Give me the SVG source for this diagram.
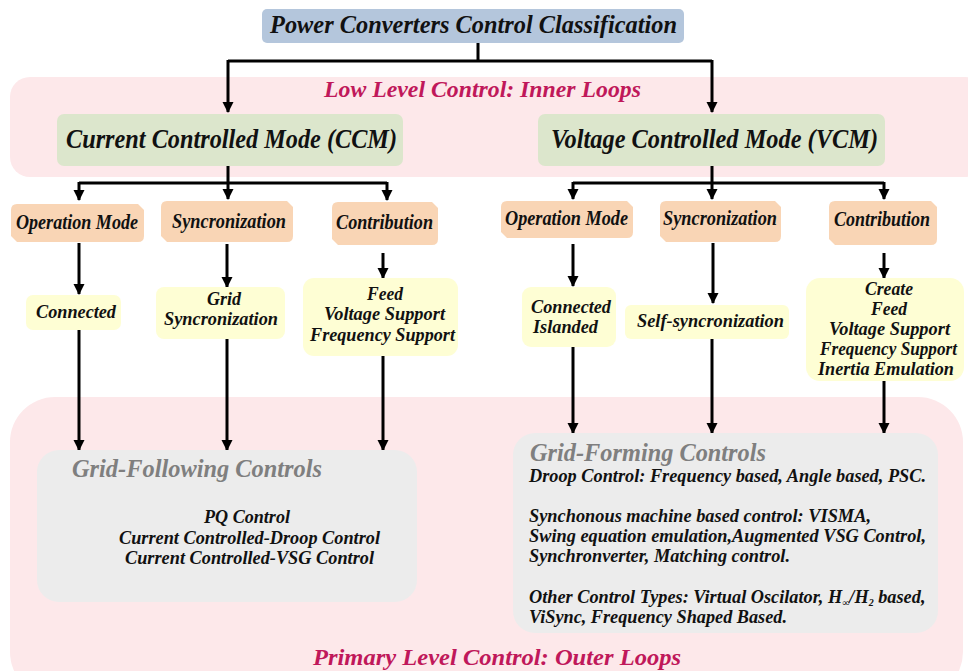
<svg xmlns="http://www.w3.org/2000/svg" width="968" height="671" viewBox="0 0 968 671">
  <style>
    text { font-family: "Liberation Serif", "Times New Roman", serif; font-weight: bold; font-style: italic; fill: #111; }
    .band { fill: #fde8ea; }
    .band-label { font-size: 24px; fill: #c0185a; }
    .title { fill: #b4c6dc; }
    .mode { fill: #dce6cc; }
    .cat { fill: #f9d5b5; }
    .leaf { fill: #fefed4; }
    .group { fill: #ececec; }
    .t18 { font-size: 20px; }
    .t17 { font-size: 19.5px; }
    .gtitle { font-size: 25px; fill: #7f7f7f; }
    .wire { stroke: #000; stroke-width: 3; fill: none; }
    .arrow { stroke: #000; stroke-width: 3; fill: none; marker-end: url(#head); }
  </style>
  <defs>
    <marker id="head" markerUnits="userSpaceOnUse" markerWidth="12" markerHeight="12" refX="10" refY="6" orient="auto">
      <path d="M0,0.5 L11,6 L0,11.5 Z" fill="#000"/>
    </marker>
  </defs>

  <!-- background bands -->
  <g id="inner-loops">
    <rect class="band" x="10" y="77" width="975" height="100" rx="20"/>
    <text class="band-label" x="324" y="97" textLength="317" lengthAdjust="spacingAndGlyphs">Low Level Control: Inner Loops</text>
  </g>
  <g id="outer-loops">
    <rect class="band" x="10" y="397" width="953" height="300" rx="45"/>
    <text class="band-label" x="313" y="665" textLength="368" lengthAdjust="spacingAndGlyphs">Primary Level Control: Outer Loops</text>
  </g>

  <!-- connectors -->
  <g id="connectors">
    <path class="wire" d="M478,43 V61 M228,61 H712"/>
    <path class="arrow" d="M228,60 V112"/>
    <path class="arrow" d="M712,60 V112"/>

    <path class="wire" d="M228,166 V183 M79,183 H387"/>
    <path class="arrow" d="M79,182 V200"/>
    <path class="arrow" d="M228,182 V199"/>
    <path class="arrow" d="M387,182 V200"/>

    <path class="wire" d="M712,166 V183 M573,183 H884"/>
    <path class="arrow" d="M573,182 V199"/>
    <path class="arrow" d="M712,182 V199"/>
    <path class="arrow" d="M884,182 V199"/>

    <path class="arrow" d="M79,243 V294"/>
    <path class="arrow" d="M227,244 V287"/>
    <path class="arrow" d="M383,253 V278"/>
    <path class="arrow" d="M573,244 V286"/>
    <path class="arrow" d="M713,243 V303"/>
    <path class="arrow" d="M884,253 V278"/>

    <path class="arrow" d="M79,330 V450"/>
    <path class="arrow" d="M227,339 V450"/>
    <path class="arrow" d="M383,356 V450"/>
    <path class="arrow" d="M573,347 V433"/>
    <path class="arrow" d="M712,339 V433"/>
    <path class="arrow" d="M884,381 V433"/>
  </g>

  <!-- root -->
  <g id="root">
    <rect class="title" x="262" y="9" width="422" height="34" rx="5"/>
    <text x="270" y="33" font-size="25" textLength="407" lengthAdjust="spacingAndGlyphs">Power Converters Control Classification</text>
  </g>

  <!-- control modes -->
  <g id="ccm">
    <rect class="mode" x="57" y="114" width="346" height="52" rx="7"/>
    <text x="66" y="148" font-size="27" textLength="331" lengthAdjust="spacingAndGlyphs">Current Controlled Mode (CCM)</text>
  </g>
  <g id="vcm">
    <rect class="mode" x="538" y="114" width="347" height="52" rx="7"/>
    <text x="551" y="148" font-size="27" textLength="327" lengthAdjust="spacingAndGlyphs">Voltage Controlled Mode (VCM)</text>
  </g>

  <!-- categories under CCM -->
  <g id="ccm-operation">
    <path class="cat" d="M17,204 H138 L144,210 V236 Q144,242 138,242 H17 L11,236 V210 Q11,204 17,204 Z"/>
    <text class="t18" x="16" y="229" textLength="122" lengthAdjust="spacingAndGlyphs">Operation Mode</text>
  </g>
  <g id="ccm-sync">
    <path class="cat" d="M167,201 H287 L293,207 V236 Q293,242 287,242 H167 L161,236 V207 Q161,201 167,201 Z"/>
    <text class="t18" x="172" y="228" textLength="114" lengthAdjust="spacingAndGlyphs">Syncronization</text>
  </g>
  <g id="ccm-contribution">
    <path class="cat" d="M338,202 H432 L438,208 V239 Q438,245 432,245 H338 L332,239 V208 Q332,202 338,202 Z"/>
    <text class="t18" x="336" y="229" textLength="97" lengthAdjust="spacingAndGlyphs">Contribution</text>
  </g>

  <!-- categories under VCM -->
  <g id="vcm-operation">
    <path class="cat" d="M507,201 H627 L633,207 V232 Q633,238 627,238 H507 L501,232 V207 Q501,201 507,201 Z"/>
    <text class="t18" x="505" y="225" textLength="123" lengthAdjust="spacingAndGlyphs">Operation Mode</text>
  </g>
  <g id="vcm-sync">
    <path class="cat" d="M666,201 H775 L781,207 V236 Q781,242 775,242 H666 L660,236 V207 Q660,201 666,201 Z"/>
    <text class="t18" x="663" y="225" textLength="114" lengthAdjust="spacingAndGlyphs">Syncronization</text>
  </g>
  <g id="vcm-contribution">
    <path class="cat" d="M835,201 H931 L937,207 V239 Q937,245 931,245 H835 L829,239 V207 Q829,201 835,201 Z"/>
    <text class="t18" x="834" y="226" textLength="96" lengthAdjust="spacingAndGlyphs">Contribution</text>
  </g>

  <!-- leaf options under CCM -->
  <g id="ccm-connected">
    <rect class="leaf" x="26" y="295" width="95" height="35" rx="7"/>
    <text class="t17" x="36" y="318" textLength="80" lengthAdjust="spacingAndGlyphs">Connected</text>
  </g>
  <g id="ccm-grid-sync">
    <rect class="leaf" x="156" y="287" width="129" height="52" rx="8"/>
    <text class="t17" x="207" y="305" textLength="34" lengthAdjust="spacingAndGlyphs">Grid</text>
    <text class="t17" x="164" y="325" textLength="114" lengthAdjust="spacingAndGlyphs">Syncronization</text>
  </g>
  <g id="ccm-support">
    <rect class="leaf" x="303" y="278" width="155" height="78" rx="11"/>
    <text class="t17" x="367" y="300" textLength="36" lengthAdjust="spacingAndGlyphs">Feed</text>
    <text class="t17" x="324" y="320" textLength="121" lengthAdjust="spacingAndGlyphs">Voltage Support</text>
    <text class="t17" x="310" y="341" textLength="145" lengthAdjust="spacingAndGlyphs">Frequency Support</text>
  </g>

  <!-- leaf options under VCM -->
  <g id="vcm-modes">
    <rect class="leaf" x="522" y="287" width="94" height="60" rx="9"/>
    <text class="t17" x="531" y="313" textLength="80" lengthAdjust="spacingAndGlyphs">Connected</text>
    <text class="t17" x="533" y="333" textLength="65" lengthAdjust="spacingAndGlyphs">Islanded</text>
  </g>
  <g id="vcm-self-sync">
    <rect class="leaf" x="625" y="305" width="164" height="34" rx="6"/>
    <text class="t17" x="637" y="327" textLength="147" lengthAdjust="spacingAndGlyphs">Self-syncronization</text>
  </g>
  <g id="vcm-support">
    <rect class="leaf" x="806" y="278" width="158" height="103" rx="14"/>
    <text class="t17" x="865" y="295" textLength="48" lengthAdjust="spacingAndGlyphs">Create</text>
    <text class="t17" x="871" y="315" textLength="36" lengthAdjust="spacingAndGlyphs">Feed</text>
    <text class="t17" x="829" y="335" textLength="121" lengthAdjust="spacingAndGlyphs">Voltage Support</text>
    <text x="820" y="355" font-size="18.5" textLength="137" lengthAdjust="spacingAndGlyphs">Frequency Support</text>
    <text class="t17" x="818" y="375" textLength="136" lengthAdjust="spacingAndGlyphs">Inertia Emulation</text>
  </g>

  <!-- outer-loop control families -->
  <g id="grid-following">
    <rect class="group" x="37" y="450" width="380" height="152" rx="22"/>
    <text class="gtitle" x="72" y="477" textLength="250" lengthAdjust="spacingAndGlyphs">Grid-Following Controls</text>
    <text class="t17" x="204" y="523" textLength="86" lengthAdjust="spacingAndGlyphs">PQ Control</text>
    <text class="t17" x="119" y="544" textLength="261" lengthAdjust="spacingAndGlyphs">Current Controlled-Droop Control</text>
    <text class="t17" x="125" y="564" textLength="249" lengthAdjust="spacingAndGlyphs">Current Controlled-VSG Control</text>
  </g>
  <g id="grid-forming">
    <rect class="group" x="513" y="433" width="425" height="200" rx="22"/>
    <text class="gtitle" x="530" y="461" textLength="236" lengthAdjust="spacingAndGlyphs">Grid-Forming Controls</text>
    <text class="t17" x="529" y="482" textLength="397" lengthAdjust="spacingAndGlyphs">Droop Control: Frequency based, Angle based, PSC.</text>
    <text class="t17" x="529" y="522" textLength="342" lengthAdjust="spacingAndGlyphs">Synchonous machine based control: VISMA,</text>
    <text class="t17" x="529" y="542" textLength="397" lengthAdjust="spacingAndGlyphs">Swing equation emulation,Augmented VSG Control,</text>
    <text class="t17" x="529" y="562" textLength="261" lengthAdjust="spacingAndGlyphs">Synchronverter, Matching control.</text>
    <text x="529" y="603" font-size="18.3">Other Control Types: Virtual Oscilator, H<tspan font-size="10" dy="3">∞</tspan><tspan dy="-3">/H</tspan><tspan font-size="10" dy="3">2</tspan><tspan dy="-3"> based,</tspan></text>
    <text class="t17" x="529" y="623" textLength="258" lengthAdjust="spacingAndGlyphs">ViSync, Frequency Shaped Based.</text>
  </g>
</svg>
